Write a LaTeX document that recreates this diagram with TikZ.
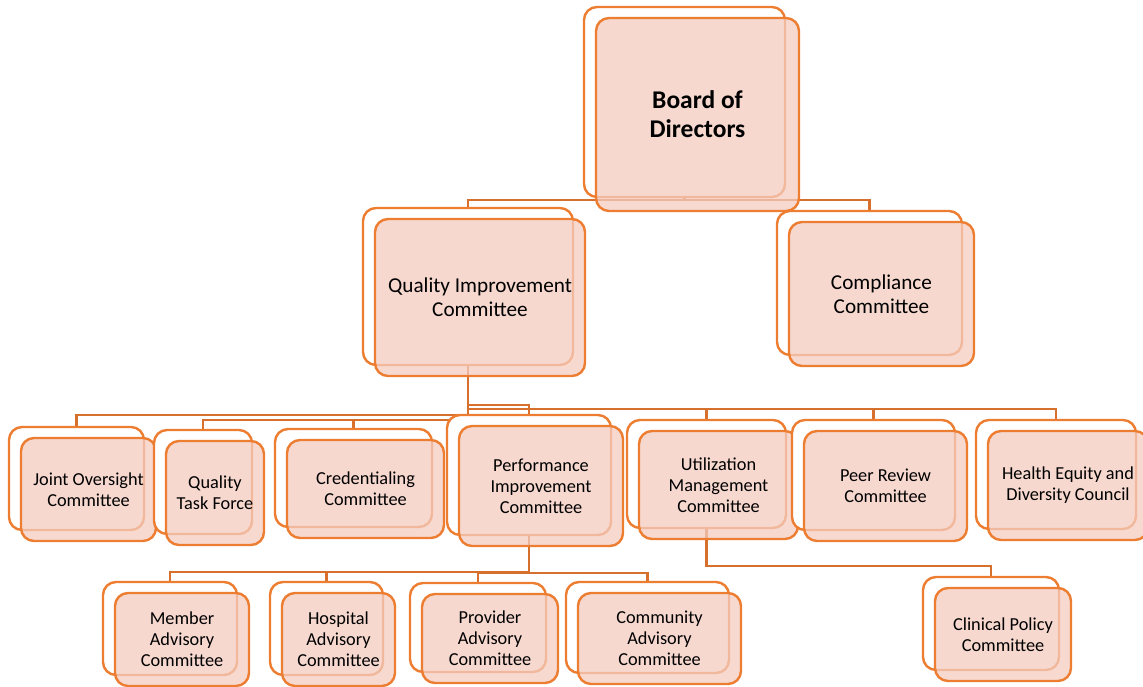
\documentclass[tikz,border=0pt]{standalone}
\usepackage{fontspec}
\setmainfont{Carlito}
\usetikzlibrary{backgrounds}
\definecolor{bord}{RGB}{237,125,49}
\definecolor{connc}{RGB}{214,112,44}
\definecolor{pinkf}{RGB}{244,204,192}
\tikzset{
 backbox/.style={draw=bord, line width=2.4pt, rounded corners=13pt, fill=white, inner sep=0pt, outer sep=0pt},
 frontbox/.style={draw=bord, line width=2.4pt, rounded corners=13pt, fill=pinkf, fill opacity=0.75, text opacity=1, draw opacity=1, inner sep=0pt, outer sep=0pt, align=center, text=black},
 conn/.style={draw=connc, line width=2.2pt},
 fsmall/.style={font=\fontsize{18.3}{21}\selectfont},
 fmid/.style={font=\fontsize{21.2}{24}\selectfont},
 fbig/.style={font=\bfseries\fontsize{25.5}{29}\selectfont},
}
% #1 options, #2 name, #3 x1, #4 y1, #5 x2, #6 y2 (back box), #7 text
\newcommand\onode[7][]{%
 \node[backbox, minimum width={(#5-#3)*1pt}, minimum height={(#6-#4)*1pt}] (#2b) at ({(#3+#5)/2},{(#4+#6)/2}) {};
 \node[frontbox, minimum width={(#5-#3)*1pt}, minimum height={(#6-#4)*1pt}, #1] (#2) at ({(#3+#5)/2+12},{(#4+#6)/2+11}) {#7};
}
\begin{document}
\begin{tikzpicture}[x=1pt,y=-1pt]
\useasboundingbox (0,0) rectangle (1143,686);
\onode[fbig, minimum width=203pt, minimum height=193pt, yshift=-1.5pt, xshift=1pt]{bd}{584}{7}{785}{197}{Board of\\Directors}
\onode[fmid]{qic}{363}{208}{573}{365}{Quality Improvement\\Committee}
\onode[fmid]{cm}{777}{211}{962}{355}{Compliance\\Committee}
\onode[fsmall]{jo}{9}{427}{144}{530}{Joint Oversight\\Committee}
\onode[fsmall]{qtf}{154}{430}{252}{534}{Quality\\Task Force}
\onode[fsmall]{cr}{275}{429}{432}{527}{Credentialing\\Committee}
\onode[fsmall]{pic}{447}{415}{611}{535}{Performance\\Improvement\\Committee}
\onode[fsmall]{umc}{627}{420}{786}{528}{Utilization\\Management\\Committee}
\onode[fsmall]{pr}{792}{420}{955}{530}{Peer Review\\Committee}
\onode[fsmall]{he}{976}{420}{1136}{529}{Health Equity and\\Diversity Council}
\onode[fsmall]{mb}{103}{582}{237}{675}{Member\\Advisory\\Committee}
\onode[fsmall]{hs}{270}{582}{383}{675}{Hospital\\Advisory\\Committee}
\onode[fsmall]{pv}{410}{583}{546}{672}{Provider\\Advisory\\Committee}
\onode[fsmall]{cmy}{566}{582}{729}{673}{Community\\Advisory\\Committee}
\onode[fsmall]{cl}{923}{577}{1059}{670}{Clinical Policy\\Committee}
\begin{scope}[on background layer]
\draw[conn] (bdb.south) -- ++(0,3) -| (qicb.north);
\draw[conn] (bdb.south) -- ++(0,3) -| (cmb.north);
\draw[conn] (qicb.south) -- ++(0,50) -| (job.north);
\draw[conn] (qicb.south) -- ++(0,55) -| (qtfb.north);
\draw[conn] (qicb.south) -- ++(0,55) -| (crb.north);
\draw[conn] (qicb.south) -- ++(0,40) -| (picb.north);
\draw[conn] (qicb.south) -- ++(0,44) -| (umcb.north);
\draw[conn] (qicb.south) -- ++(0,44) -| (prb.north);
\draw[conn] (qicb.south) -- ++(0,44) -| (heb.north);
\draw[conn] (picb.south) -- ++(0,37) -| (mbb.north);
\draw[conn] (picb.south) -- ++(0,37) -| (hsb.north);
\draw[conn] (picb.south) -- ++(0,38) -| (pvb.north);
\draw[conn] (picb.south) -- ++(0,38) -| (cmyb.north);
\draw[conn] (umcb.south) -- ++(0,38) -| (clb.north);
\end{scope}
\end{tikzpicture}
\end{document}
